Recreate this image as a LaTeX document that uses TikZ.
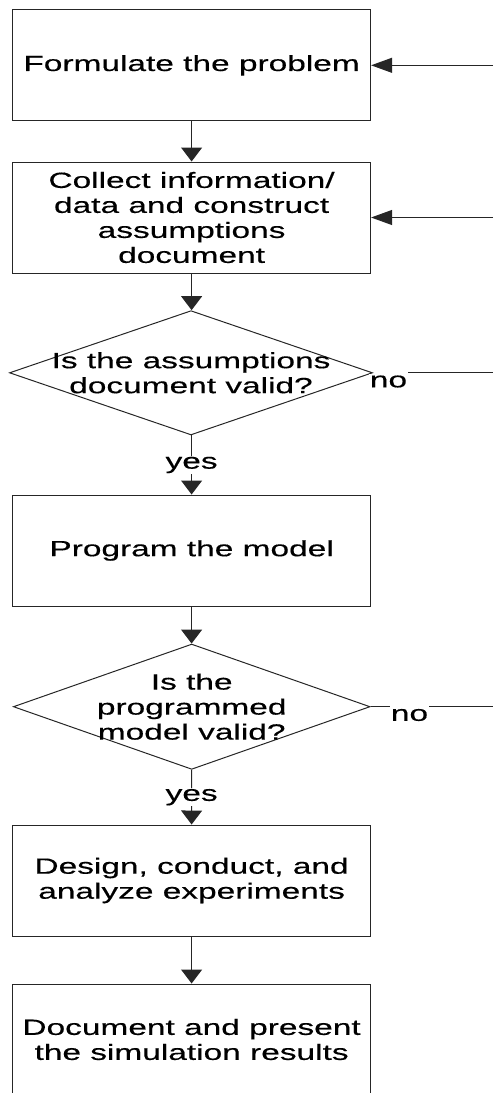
\documentclass[tikz,border=0pt]{standalone}
\usepackage{fontspec}
\newfontfamily\flowfont[FakeStretch=1.52,FakeBold=0.4]{Liberation Sans}
\usetikzlibrary{arrows.meta,shapes.geometric}
\begin{document}
\begin{tikzpicture}[x=1pt,y=-1pt,
  every node/.style={font=\flowfont\fontsize{22}{25}\selectfont, text=black},
  stepbox/.style={draw=black!85, line width=1pt, minimum width=358pt,
    minimum height=111pt, inner sep=0pt, align=center},
  decision/.style={draw=black!85, line width=1pt, diamond, inner sep=0pt},
  question/.style={align=center, inner sep=0pt},
  flow/.style={draw=black!85, line width=1pt, -{Triangle[length=14pt,width=21pt]}},
  feedin/.style={draw=black!85, line width=1pt, -{Triangle[length=21pt,width=15pt]}},
  branch/.style={draw=black!85, line width=1pt},
  lab/.style={fill=white, inner sep=1pt}]
  \useasboundingbox (0,0) rectangle (493,1093);
  \clip (0,0) rectangle (493,1093);

  % process steps and decisions
  \node[stepbox] (formulate) at (191.6,65.3) {Formulate the problem};
  \node[stepbox] (collect) at (191.6,217.5)
    {Collect information/\\data and construct\\assumptions\\document};
  \node[decision, minimum width=363pt, minimum height=124.3pt] (valid1) at (191,372.8) {};
  \node[question] (q1) at (valid1) {Is the assumptions\\document valid?};
  \node[stepbox] (program) at (191.6,550.5) {Program the model};
  \node[decision, minimum width=356.7pt, minimum height=125.3pt] (valid2) at (191.7,706.7) {};
  \node[question] (q2) at (valid2) {Is the\\programmed\\model valid?};
  \node[stepbox] (design) at (191.6,880.5) {Design, conduct, and\\analyze experiments};
  \node[stepbox] (present) at (191.6,1039.5) {Document and present\\the simulation results};

  % main flow
  \draw[flow] (formulate) -- (collect);
  \draw[flow] (collect.south) -- (collect.south |- valid1.north);
  \draw[flow] (valid1.south -| program.north) -- node[lab] (yes1) {yes} (program.north);
  \draw[flow] (program.south) -- (program.south |- valid2.north);
  \draw[flow] (valid2.south) -- node[lab] (yes2) {yes} (design.north);
  \draw[flow] (design) -- (present);

  % feedback lines on the right
  \coordinate (in1) at (493,65.3);
  \coordinate (in2) at (493,217.5);
  \draw[feedin] (in1) -- (formulate.east);
  \draw[feedin] (in2) -- (collect.east);

  \node[lab] (no1) at (388.5,381.5) {no};
  \coordinate (out1) at (493,372.3);
  \draw[branch] (no1.east |- out1) -- (out1);

  \node[lab] (no2) at (409.5,715) {no};
  \coordinate (out2) at (493,706.7);
  \draw[branch] (valid2.east) -- (no2.west |- valid2.east);
  \draw[branch] (no2.east |- out2) -- (out2);
\end{tikzpicture}
\end{document}
